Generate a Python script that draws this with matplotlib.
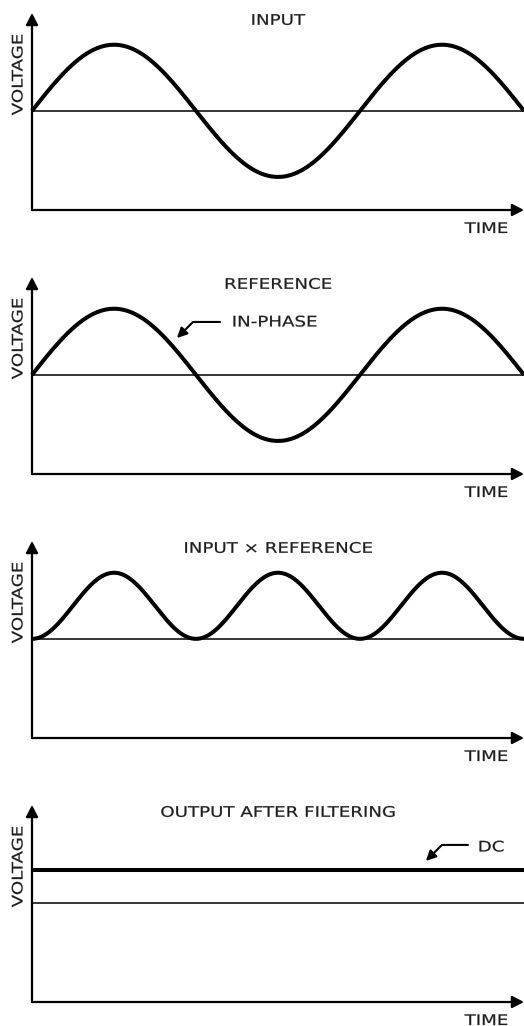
import numpy as np
import matplotlib
matplotlib.use("Agg")
import matplotlib.pyplot as plt
from matplotlib.patheffects import AbstractPathEffect
from matplotlib.transforms import Affine2D

# ---- data -------------------------------------------------------------
titles = ["INPUT", "REFERENCE", "INPUT \u00d7 REFERENCE", "OUTPUT AFTER FILTERING"]
x_label = "TIME"
y_label = "VOLTAGE"
signal_amplitude = 1.0          # peak voltage of input and reference
signal_cycles = 1.5             # cycles shown across the time axis
reference_phase = 0.0           # in-phase reference
n_samples = 600
annotations = {1: ("IN-PHASE", (0.61, 0.80), (0.573, 0.80), (0.442, 0.557)),
               3: ("DC", (1.36, 0.845), (1.329, 0.876), (1.201, 0.634))}

time = np.linspace(0, signal_cycles, n_samples)
input_sig = signal_amplitude * np.sin(2 * np.pi * time)
reference_sig = signal_amplitude * np.sin(2 * np.pi * time + reference_phase)
product_sig = input_sig * reference_sig
dc_level = np.full_like(time, product_sig.mean())
series = [input_sig, reference_sig, product_sig, dc_level]


# ---- wide, medium-weight lettering (imitates the tracked geometric font) ----
class Stretch(AbstractPathEffect):
    def __init__(self, sx=1.25, frac=0.5, stroke=0.15):
        super().__init__()
        self.sx = sx
        self.frac = frac
        self.stroke = stroke

    def draw_path(self, renderer, gc, tpath, affine, rgbFace=None):
        ext = tpath.get_extents()
        a = ext.x0 + self.frac * (ext.x1 - ext.x0)
        t = Affine2D().translate(-a, 0).scale(self.sx, 1).translate(a, 0) + affine
        gc0 = renderer.new_gc()
        gc0.copy_properties(gc)
        if rgbFace is not None:
            gc0.set_foreground(rgbFace)
        gc0.set_linewidth(self.stroke)
        gc0.set_joinstyle('round')
        renderer.draw_path(gc0, tpath, t, rgbFace)
        gc0.restore()


# ---- layout -----------------------------------------------------------
W, H, DPI = 524, 1026, 100
fig = plt.figure(figsize=(W / DPI, H / DPI), dpi=DPI)
plt.rcParams['font.family'] = ['DejaVu Sans']

left_px, right_px = 32, 524
panel_step = 264
top0, bottom0 = 13, 210
txt_color = '#1e1e1e'
fs = 10.5
SX = 1.25

for i in range(4):
    top = top0 + panel_step * i
    bot = bottom0 + panel_step * i
    ax = fig.add_axes([left_px / W, 1 - bot / H, (right_px - left_px) / W, (bot - top) / H])
    ax.set_xlim(0, signal_cycles)
    ax.set_ylim(-1.5, 1.48)
    ax.set_axis_off()

    # baseline
    ax.plot([0, signal_cycles], [0, 0], color='black', lw=1.1, solid_capstyle='butt')
    # signal
    ax.plot(time, series[i], color='black', lw=2.9, solid_capstyle='butt', clip_on=False)

    # axes arrows
    ap = dict(arrowstyle='-|>,head_length=0.7,head_width=0.36', color='black',
              lw=1.6, shrinkA=0, shrinkB=0)
    ax.annotate('', xy=(0, 1), xytext=(0, 0), xycoords='axes fraction', arrowprops=ap)
    ax.annotate('', xy=(1, 0), xytext=(0, 0), xycoords='axes fraction', arrowprops=ap)

    # labels
    ax.annotate(titles[i], xy=(0.5, 1), xycoords='axes fraction', xytext=(0, -11.8),
                textcoords='offset pixels', ha='center', va='baseline',
                fontsize=fs, color=txt_color, path_effects=[Stretch(SX, 0.5)])
    ax.annotate(y_label, xy=(0, 1), xycoords='axes fraction', xytext=(-9.5, -61.5),
                textcoords='offset pixels', ha='center', va='baseline', rotation=90,
                rotation_mode='anchor', fontsize=fs, color=txt_color,
                path_effects=[Stretch(SX, 0.5)])
    ax.annotate(x_label, xy=(1, 0), xycoords='axes fraction', xytext=(-16, -23),
                textcoords='offset pixels', ha='right', va='baseline',
                fontsize=fs, color=txt_color, path_effects=[Stretch(SX, 1.0)])

    if i in annotations:
        label, tpos, start, tip = annotations[i]
        ax.text(tpos[0], tpos[1], label, ha='left', va='center', fontsize=fs,
                color=txt_color, path_effects=[Stretch(SX, 0.0)])
        ax.annotate('', xy=tip, xytext=start,
                    arrowprops=dict(arrowstyle='-|>,head_length=0.6,head_width=0.3',
                                    connectionstyle='angle,angleA=0,angleB=45,rad=0',
                                    color='black', lw=1.5, shrinkA=0, shrinkB=0))

fig.savefig('out.png', dpi=DPI)
